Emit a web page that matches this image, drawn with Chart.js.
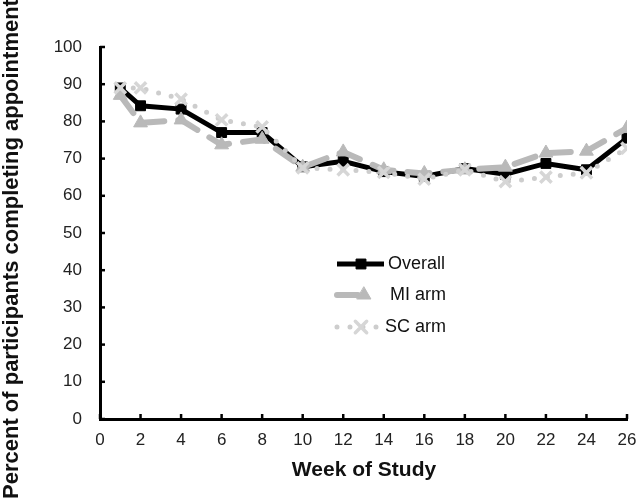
<!DOCTYPE html>
<html>
<head>
<meta charset="utf-8">
<script src="https://cdn.jsdelivr.net/npm/chart.js@4.4.0/dist/chart.umd.min.js"></script>
<style>
  html, body { margin: 0; padding: 0; background: #fff; }
  #wrap { width: 640px; height: 502px; }
</style>
</head>
<body>
<div id="wrap"><canvas id="chart" width="640" height="502"></canvas></div>
<script>
// semanas do estudo (eixo x)
const weeks = [1, 2, 4, 6, 8, 10, 12, 14, 16, 18, 20, 22, 24, 26];

// percentuais
const overall = [89, 84.2, 83.3, 77, 77, 67.8, 69.3, 66.5, 65.2, 67.3, 65.8, 68.7, 67, 75.5];
const miArm   = [87, 79.6, 80.4, 73.7, 75.2, 67.7, 71.8, 67, 66, 67, 67.7, 71.5, 72, 78.2];
const scArm   = [89, 89, 86, 80.4, 78.5, 67.5, 67, 66.3, 64.5, 67, 63.8, 65, 66.2, 72.8];

const seriesLabels = ['Overall', 'MI arm', 'SC arm'];
const xTitle = 'Week of Study';
const yTitle = 'Percent of participants completing appointments';

const FONT = "'Liberation Sans', Arial, sans-serif";

function toPoints(values) {
  return weeks.map((w, i) => ({ x: w, y: values[i] }));
}

/**
 * Marcas de escala para dentro do gráfico + títulos dos eixos.
 */
const axisDecor = {
  id: 'axisDecor',
  afterDraw(chart) {
    const ctx = chart.ctx;
    const x = chart.scales.x;
    const y = chart.scales.y;
    const area = chart.chartArea;
    ctx.save();
    ctx.strokeStyle = '#000';
    ctx.lineWidth = 2.5;
    x.ticks.forEach(t => {
      const px = x.getPixelForValue(t.value);
      ctx.beginPath();
      ctx.moveTo(px, area.bottom);
      ctx.lineTo(px, area.bottom - 5);
      ctx.stroke();
    });
    y.ticks.forEach(t => {
      const py = y.getPixelForValue(t.value);
      ctx.beginPath();
      ctx.moveTo(area.left, py);
      ctx.lineTo(area.left + 5, py);
      ctx.stroke();
    });

    // título eixo x
    ctx.fillStyle = '#111';
    ctx.font = 'bold 21px ' + FONT;
    ctx.textAlign = 'center';
    ctx.textBaseline = 'middle';
    ctx.fillText(xTitle, 364, 470);

    // título eixo y (cortado no topo, como no original)
    ctx.font = 'bold 22px ' + FONT;
    ctx.translate(12, 499);
    ctx.rotate(-Math.PI / 2);
    ctx.textAlign = 'left';
    ctx.fillText(yTitle, 0, 0);
    ctx.restore();
  }
};

/**
 * Legenda desenhada dentro da área do gráfico.
 */
const innerLegend = {
  id: 'innerLegend',
  afterDraw(chart) {
    const ctx = chart.ctx;
    const ds = chart.data.datasets;
    const rows = [264, 295, 327];
    ctx.save();
    rows.forEach((ry, i) => {
      const d = ds[i];
      ctx.strokeStyle = d.borderColor;
      ctx.lineWidth = d.borderWidth;
      ctx.lineCap = d.borderCapStyle || 'butt';
      ctx.setLineDash(d.borderDash || []);
      ctx.beginPath();
      if (i === 1) {
        ctx.moveTo(337, ry);
        ctx.lineTo(358, ry);
      } else {
        ctx.moveTo(337, ry);
        ctx.lineTo(384, ry);
      }
      ctx.stroke();
      ctx.setLineDash([]);
      ctx.fillStyle = d.pointBackgroundColor;
      ctx.strokeStyle = d.pointBorderColor;
      ctx.lineWidth = d.pointBorderWidth;
      Chart.helpers.drawPoint(ctx, {
        pointStyle: d.pointStyle,
        radius: d.pointRadius,
        rotation: 0,
        borderWidth: d.pointBorderWidth
      }, i === 1 ? 364 : 361, ry);

      ctx.fillStyle = '#111';
      ctx.font = '18px ' + FONT;
      ctx.textAlign = 'left';
      ctx.textBaseline = 'middle';
      ctx.fillText(seriesLabels[i], i === 0 ? 388 : (i === 1 ? 390 : 385), ry);
    });
    ctx.restore();
  }
};

const chart = new Chart(document.getElementById('chart').getContext('2d'), {
  type: 'line',
  data: {
    datasets: [
      {
        label: seriesLabels[0],
        data: toPoints(overall),
        borderColor: '#000',
        borderWidth: 5,
        pointStyle: 'rect',
        pointRadius: 7,
        pointBackgroundColor: '#000',
        pointBorderColor: '#000',
        pointBorderWidth: 1,
        order: 3
      },
      {
        label: seriesLabels[1],
        data: toPoints(miArm),
        borderColor: '#b9b9b9',
        borderWidth: 6,
        borderDash: [22, 14],
        borderCapStyle: 'round',
        pointStyle: 'triangle',
        pointRadius: 8,
        pointBackgroundColor: '#b9b9b9',
        pointBorderColor: '#b9b9b9',
        pointBorderWidth: 1,
        order: 2
      },
      {
        label: seriesLabels[2],
        data: toPoints(scArm),
        borderColor: '#cdcdcd',
        borderWidth: 5,
        borderDash: [0, 13],
        borderCapStyle: 'round',
        pointStyle: 'crossRot',
        pointRadius: 8,
        pointBackgroundColor: '#d6d6d6',
        pointBorderColor: '#d6d6d6',
        pointBorderWidth: 3.5,
        order: 1
      }
    ]
  },
  options: {
    responsive: false,
    animation: false,
    layout: { padding: { top: 47, right: 13, left: 0, bottom: 0 } },
    plugins: {
      legend: { display: false },
      tooltip: { enabled: false }
    },
    scales: {
      x: {
        type: 'linear',
        min: 0,
        max: 26,
        ticks: { stepSize: 2, padding: 11, color: '#222', font: { family: FONT, size: 17 } },
        grid: { display: true, drawOnChartArea: false, drawTicks: false },
        border: { display: true, color: '#000', width: 3 },
        afterFit: s => { s.height = 83; s.paddingLeft = 0; s.paddingRight = 0; }
      },
      y: {
        min: 0,
        max: 100,
        ticks: { stepSize: 10, padding: 18, color: '#222', font: { family: FONT, size: 17 } },
        grid: { display: true, drawOnChartArea: false, drawTicks: false },
        border: { display: true, color: '#000', width: 3 },
        afterFit: s => { s.width = 100; s.paddingTop = 0; s.paddingBottom = 0; }
      }
    }
  },
  plugins: [axisDecor, innerLegend]
});
</script>
</body>
</html>
